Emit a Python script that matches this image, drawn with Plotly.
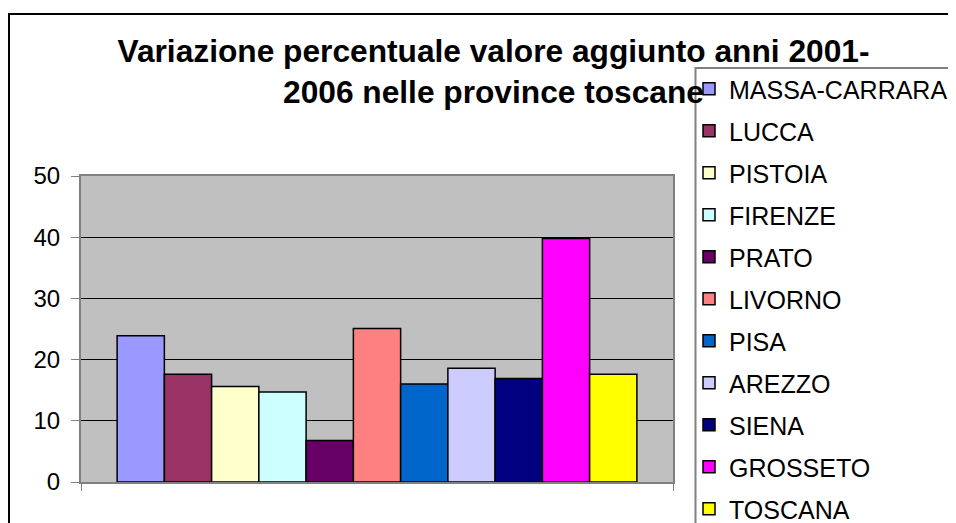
import plotly.graph_objects as go

provinces = ["MASSA-CARRARA", "LUCCA", "PISTOIA", "FIRENZE", "PRATO", "LIVORNO",
             "PISA", "AREZZO", "SIENA", "GROSSETO", "TOSCANA"]
values = [23.9, 17.6, 15.6, 14.7, 6.8, 25.1, 16.0, 18.6, 16.9, 39.8, 17.6]
colors = ["#9999FF", "#993366", "#FFFFCC", "#CCFFFF", "#660066", "#FF8080",
          "#0066CC", "#CCCCFF", "#000080", "#FF00FF", "#FFFF00"]
title_text = "Variazione percentuale valore aggiunto anni 2001-<br>2006 nelle province toscane"
y_ticks = [0, 10, 20, 30, 40, 50]

# page body has an 8px margin; the figure fills the rest of the 956x523 window
OFF = 8
W, H = 956 - OFF, 523 - OFF
# plot area in screen pixels
SL, SR, ST, SB = 81, 673, 176, 482
L, R, T, B = SL - OFF, SR - OFF, ST - OFF, SB - OFF

def px(sx):
    return (sx - OFF - L) / (R - L)

def py(sy):
    return (B - (sy - OFF)) / (B - T)

fig = go.Figure()
for name, val, col in zip(provinces, values, colors):
    fig.add_trace(go.Bar(
        x=[""], y=[val], name=name, legendgroup=name,
        marker=dict(color=col, line=dict(color="#000000", width=1.5)),
    ))

font_family = "Liberation Sans, Arial, sans-serif"

fig.update_layout(
    width=W, height=H,
    margin=dict(l=L, r=W - R, t=T, b=H - B, autoexpand=False),
    paper_bgcolor="white",
    plot_bgcolor="#C0C0C0",
    barmode="group",
    bargap=0.122,
    bargroupgap=0,
    font=dict(family=font_family, color="black"),
    title=dict(
        text=title_text,
        font=dict(family=font_family, size=31.7, color="black", weight="bold"),
        x=(493.5 - OFF) / W, xanchor="center", xref="container",
        y=1 - 54 / H, yanchor="top", yref="container",
    ),
    showlegend=True,
    legend=dict(
        x=px(689), xanchor="left",
        y=py(66), yanchor="top",
        bgcolor="rgba(0,0,0,0)",
        borderwidth=0,
        font=dict(family=font_family, size=25, color="black"),
        tracegroupgap=6.5,
        itemwidth=30,
        maxheight=2000,
    ),
    xaxis=dict(
        showticklabels=False,
        showline=True, linecolor="#808080", linewidth=2, mirror=True,
        ticks="outside", tickson="boundaries", ticklen=7, tickcolor="#808080", tickwidth=1,
        showgrid=False, zeroline=False,
    ),
    yaxis=dict(
        range=[0, 50], tickvals=y_ticks,
        showline=True, linecolor="#808080", linewidth=2, mirror=True,
        ticks="outside", ticklen=8, tickcolor="#808080", tickwidth=1,
        showgrid=True, gridcolor="#000000", gridwidth=1,
        zeroline=True, zerolinecolor="#000000", zerolinewidth=1,
        tickfont=dict(family=font_family, size=24, color="black"),
        ticklabelstandoff=6,
    ),
    shapes=[
        # outer chart frame
        dict(type="rect", xref="paper", yref="paper",
             x0=px(9), x1=px(980), y0=py(14), y1=py(540),
             line=dict(color="black", width=2), fillcolor="rgba(0,0,0,0)", layer="below"),
        # legend box
        dict(type="rect", xref="paper", yref="paper",
             x0=px(695.5), x1=px(980), y0=py(68), y1=py(540),
             line=dict(color="#808080", width=2), fillcolor="white", layer="above"),
    ],
)

fig.write_html("out.html")
